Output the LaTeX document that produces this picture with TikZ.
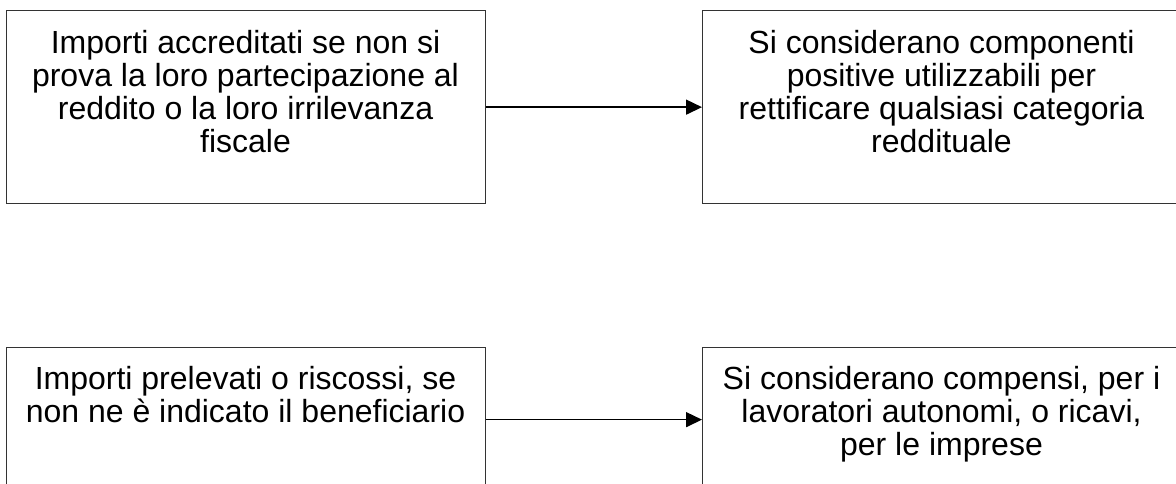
\documentclass[tikz,border=0pt]{standalone}
\usepackage{fontspec}
\setmainfont{Liberation Sans}
\usetikzlibrary{arrows.meta}
\begin{document}
\begin{tikzpicture}[x=1pt,y=-1pt,
  box/.style={draw=black!80, line width=1.3pt, minimum width=479pt, inner sep=0pt, anchor=north west},
  txt/.style={anchor=north, align=center, font=\fontsize{32}{33}\selectfont, inner sep=0pt},
  arr/.style={-{Triangle[length=16pt,width=15pt]}, line width=1.5pt}]
\useasboundingbox (0,0) rectangle (1176,484);
\node[box, minimum height=193pt] (tl) at (6,10) {};
\node[box, minimum height=193pt] (tr) at (702,10) {};
\node[box, minimum height=144pt] (bl) at (6,347) {};
\node[box, minimum height=144pt] (br) at (702,347) {};
\node[txt] (tlt) at (245.5,30) {Importi accreditati se non si\\prova la loro partecipazione al\\reddito o la loro irrilevanza\\fiscale};
\node[txt] (trt) at (941.5,30) {Si considerano componenti\\positive utilizzabili per\\rettificare qualsiasi categoria\\reddituale};
\node[txt] (blt) at (245.5,366) {Importi prelevati o riscossi, se\\non ne è indicato il beneficiario};
\node[txt] (brt) at (941.5,366) {Si considerano compensi, per i\\lavoratori autonomi, o ricavi,\\per le imprese};
\draw[arr] (tl.east) -- (tr.west);
\draw[arr] (bl.east) -- (br.west);
\end{tikzpicture}
\end{document}
